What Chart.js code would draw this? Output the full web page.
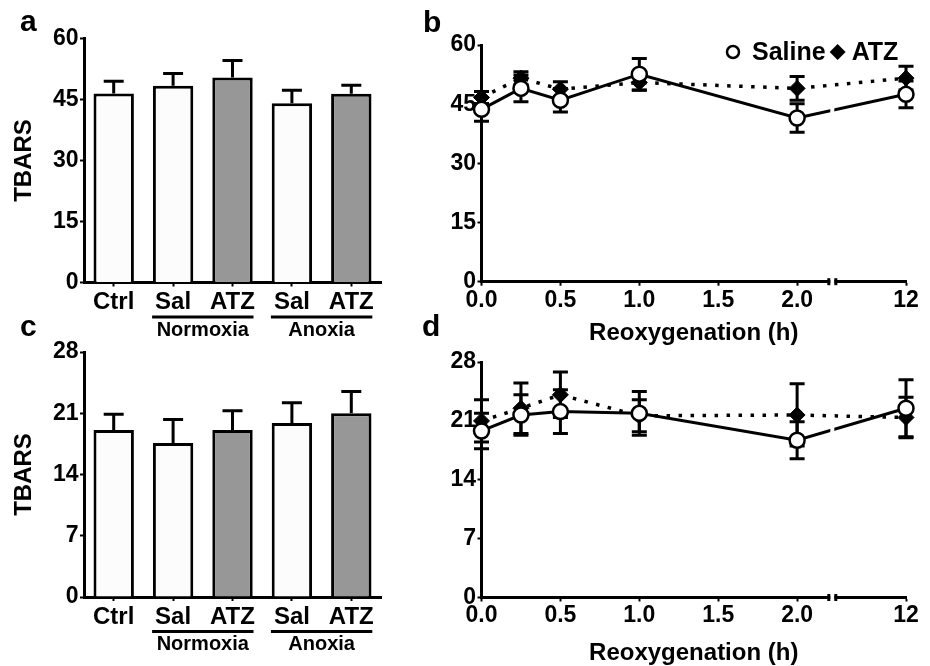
<!DOCTYPE html>
<html>
<head>
<meta charset="utf-8">
<title>TBARS after anoxia / reoxygenation</title>
<script src="https://cdn.jsdelivr.net/npm/chart.js@4.4.1/dist/chart.umd.min.js"></script>
<style>
    html, body { margin: 0; padding: 0; background: #fff; }
    #figure {
        position: relative; width: 930px; height: 666px; overflow: hidden;
        background: #fff; font-family: 'Liberation Sans', Arial, sans-serif;
    }
    .panel { position: absolute; }
    .panel canvas { display: block; }
    .letter {
        position: absolute; font-weight: bold; font-size: 30px;
        line-height: 30px; color: #000;
    }
</style>
</head>
<body>
<div id="figure">
    <div class="panel" style="left:0px;top:0px;"><canvas id="chartA" width="405" height="345"></canvas></div>
    <div class="panel" style="left:410px;top:0px;"><canvas id="chartB" width="520" height="350"></canvas></div>
    <div class="panel" style="left:0px;top:320px;"><canvas id="chartC" width="405" height="346"></canvas></div>
    <div class="panel" style="left:410px;top:320px;"><canvas id="chartD" width="520" height="346"></canvas></div>

    <div class="letter" style="left:20px;top:6px;">a</div>
    <div class="letter" style="left:423px;top:7px;">b</div>
    <div class="letter" style="left:20px;top:311px;">c</div>
    <div class="letter" style="left:422px;top:311px;">d</div>
</div>

<script>
// ---- Data ----

// Bar panels (a: top, c: bottom)
const barLabels = ['Ctrl', 'Sal', 'ATZ', 'Sal', 'ATZ'];
const barFills = ['#fcfcfc', '#fcfcfc', '#979797', '#fcfcfc', '#979797'];
const groupNames = ['Normoxia', 'Anoxia'];
const groupSpans = [[1, 2], [3, 4]];

const tbarsA = [46.5, 48.4, 50.4, 44.1, 46.4];
const tbarsAErr = [3.0, 3.0, 4.2, 3.2, 2.1];
const tbarsC = [19.1, 17.6, 19.1, 19.9, 21.0];
const tbarsCErr = [1.8, 2.7, 2.2, 2.3, 2.5];

// Reoxygenation panels (b: top, d: bottom)
const reoxTimes = [0, 0.25, 0.5, 1, 2, 12];
const salineB = [43.7, 49.0, 46.0, 52.6, 41.5, 47.5];
const salineBErr = [3.0, 3.4, 3.0, 4.0, 3.6, 3.4];
const atzB = [46.7, 51.6, 48.8, 50.5, 49.0, 51.6];
const atzBErr = [1.5, 1.6, 1.9, 2.0, 3.0, 3.0];
const salineD = [19.8, 21.7, 22.1, 21.9, 18.7, 22.5];
const salineDErr = [2.1, 2.4, 2.6, 2.6, 2.2, 3.4];
const atzD = [21.0, 22.5, 24.1, 21.6, 21.7, 21.4];
const atzDErr = [2.5, 3.0, 2.7, 1.9, 3.7, 2.4];

const timeTicks = [0, 0.5, 1, 1.5, 2, 12];
const timeTickLabels = ['0.0', '0.5', '1.0', '1.5', '2.0', '12'];

// y ticks
const yTicksTop = [0, 15, 30, 45, 60];
const yTicksBottom = [0, 7, 14, 21, 28];

// The time axis is broken after 2 h; the 12 h point sits just past the break
const AXIS_BREAK = 2.223;
const LATE_POS = 2.69;
const toAxis = (t) => (t > AXIS_BREAK ? LATE_POS : t);

const FONT = "'Liberation Sans', Arial, sans-serif";
Chart.defaults.font.family = FONT;
Chart.defaults.font.weight = 'bold';
Chart.defaults.color = '#000';

// Panel boxes (canvas position) and plot areas, in page pixels
function fitPanel(box, area) {
    return {
        padding: { top: area.top - box.y, right: box.x + box.w - area.right, bottom: 0, left: 0 },
        yWidth: area.left - box.x,
        xHeight: box.y + box.h - area.bottom
    };
}

// Error bars, from each dataset's "err" array
const errorBarPlugin = {
    id: 'errorBars',
    beforeDatasetsDraw(chart, args, opts) {
        const ctx = chart.ctx;
        const y = chart.scales.y;
        ctx.save();
        ctx.strokeStyle = '#000';
        ctx.lineWidth = 3;
        chart.data.datasets.forEach((ds, di) => {
            if (!ds.err) return;
            const meta = chart.getDatasetMeta(di);
            meta.data.forEach((el, i) => {
                const raw = ds.data[i];
                const v = typeof raw === 'object' ? raw.y : raw;
                const top = y.getPixelForValue(v + ds.err[i]);
                const bottom = opts.upOnly ? y.getPixelForValue(v) : y.getPixelForValue(v - ds.err[i]);
                const half = opts.capWidth / 2;
                ctx.beginPath();
                ctx.moveTo(el.x, top);
                ctx.lineTo(el.x, bottom);
                ctx.moveTo(el.x - half, top);
                ctx.lineTo(el.x + half, top);
                if (!opts.upOnly) {
                    ctx.moveTo(el.x - half, bottom);
                    ctx.lineTo(el.x + half, bottom);
                }
                ctx.stroke();
            });
        });
        ctx.restore();
    }
};

// Normoxia / Anoxia brackets under the bar labels
const groupLabelPlugin = {
    id: 'groupLabels',
    afterDraw(chart) {
        const x = chart.scales.x;
        const ctx = chart.ctx;
        const base = chart.chartArea.bottom;
        ctx.save();
        ctx.strokeStyle = '#000';
        ctx.fillStyle = '#000';
        ctx.lineWidth = 3;
        ctx.font = `bold 20px ${FONT}`;
        ctx.textAlign = 'center';
        ctx.textBaseline = 'middle';
        groupNames.forEach((name, i) => {
            const x0 = x.getPixelForValue(groupSpans[i][0]) - 21;
            const x1 = x.getPixelForValue(groupSpans[i][1]) + 21;
            ctx.beginPath();
            ctx.moveTo(x0, base + 34.5);
            ctx.lineTo(x1, base + 34.5);
            ctx.stroke();
            ctx.fillText(name, (x0 + x1) / 2, base + 47.5);
        });
        ctx.restore();
    }
};

// Gap in the time axis (and in the lines crossing it)
const axisBreakPlugin = {
    id: 'axisBreak',
    afterDatasetsDraw(chart) {
        const ctx = chart.ctx;
        const area = chart.chartArea;
        const bx = chart.scales.x.getPixelForValue(AXIS_BREAK);
        ctx.save();
        ctx.fillStyle = '#fff';
        ctx.fillRect(bx - 2, area.top, 4, area.bottom - area.top + 4);
        ctx.fillStyle = '#000';
        ctx.fillRect(bx - 5, area.bottom - 3.5, 3, 7);
        ctx.fillRect(bx + 2, area.bottom - 3.5, 3, 7);
        ctx.restore();
    }
};

// "o Saline  ◆ ATZ" in the top right corner of panel b
const cornerLegendPlugin = {
    id: 'cornerLegend',
    afterDraw(chart) {
        const ctx = chart.ctx;
        const area = chart.chartArea;
        const y = area.top + 7;
        let x = area.right - 173;
        ctx.save();
        ctx.font = `bold 25px ${FONT}`;
        ctx.textBaseline = 'middle';
        ctx.fillStyle = '#000';
        chart.data.datasets.forEach((ds) => {
            ctx.beginPath();
            if (ds.pointStyle === 'circle') {
                ctx.arc(x, y, 6, 0, Math.PI * 2);
                ctx.fillStyle = '#fff';
                ctx.fill();
                ctx.lineWidth = 2.5;
                ctx.strokeStyle = '#000';
                ctx.stroke();
            } else {
                ctx.moveTo(x, y - 8);
                ctx.lineTo(x + 8, y);
                ctx.lineTo(x, y + 8);
                ctx.lineTo(x - 8, y);
                ctx.closePath();
                ctx.fillStyle = '#000';
                ctx.fill();
            }
            ctx.fillStyle = '#000';
            const tx = x + (ds.pointStyle === 'circle' ? 19 : 14);
            ctx.fillText(ds.label, tx, y + 1);
            x = tx + ctx.measureText(ds.label).width + 12;
        });
        ctx.restore();
    }
};

function tickAxis(extra) {
    return Object.assign({
        grid: { drawOnChartArea: false, drawTicks: true, tickLength: 4, tickColor: '#000', tickWidth: 2 },
        border: { display: true, color: '#000', width: 3 }
    }, extra);
}

function barChart(id, box, area, values, errors, yTicks) {
    const fit = fitPanel(box, area);
    return new Chart(document.getElementById(id), {
        type: 'bar',
        data: {
            labels: barLabels,
            datasets: [{
                data: values,
                err: errors,
                backgroundColor: barFills,
                borderColor: '#000',
                borderWidth: 3,
                barPercentage: 0.68,
                categoryPercentage: 1
            }]
        },
        options: {
            responsive: false,
            animation: false,
            layout: { padding: fit.padding, autoPadding: false },
            plugins: {
                legend: { display: false },
                tooltip: { enabled: false },
                errorBars: { capWidth: 20, upOnly: true }
            },
            scales: {
                x: tickAxis({
                    grid: { offset: false, drawOnChartArea: false, drawTicks: true, tickLength: 4, tickColor: '#000', tickWidth: 2 },
                    ticks: { font: { size: 24, lineHeight: 1 }, padding: 4 },
                    afterFit: (s) => { s.height = fit.xHeight; }
                }),
                y: tickAxis({
                    min: yTicks[0],
                    max: yTicks[yTicks.length - 1],
                    afterBuildTicks: (s) => { s.ticks = yTicks.map(v => ({ value: v })); },
                    ticks: { font: { size: 23, lineHeight: 1 }, padding: 1.5 },
                    title: { display: true, text: 'TBARS', font: { size: 24, lineHeight: 1 }, padding: { top: 12, bottom: 0 } },
                    afterFit: (s) => { s.width = fit.yWidth; }
                })
            }
        },
        plugins: [errorBarPlugin, groupLabelPlugin]
    });
}

function lineChart(id, box, area, titleY, saline, salineErr, atz, atzErr, yTicks, withLegend) {
    const fit = fitPanel(box, area);
    const points = (vals) => reoxTimes.map((t, i) => ({ x: toAxis(t), y: vals[i] }));
    const plugins = [errorBarPlugin, axisBreakPlugin];
    if (withLegend) plugins.push(cornerLegendPlugin);

    return new Chart(document.getElementById(id), {
        type: 'line',
        data: {
            datasets: [
                {
                    label: 'Saline',
                    data: points(saline),
                    err: salineErr,
                    borderColor: '#000',
                    borderWidth: 3,
                    tension: 0,
                    clip: false,
                    pointStyle: 'circle',
                    pointRadius: 7.5,
                    pointBackgroundColor: '#fff',
                    pointBorderColor: '#000',
                    pointBorderWidth: 2.5
                },
                {
                    label: 'ATZ',
                    data: points(atz),
                    err: atzErr,
                    borderColor: '#000',
                    borderWidth: 3.5,
                    borderDash: [3.5, 8.5],
                    tension: 0,
                    clip: false,
                    pointStyle: 'rectRot',
                    pointRadius: 8,
                    pointBackgroundColor: '#000',
                    pointBorderColor: '#000',
                    pointBorderWidth: 1
                }
            ]
        },
        options: {
            responsive: false,
            animation: false,
            layout: { padding: fit.padding, autoPadding: false },
            plugins: {
                legend: { display: false },
                tooltip: { enabled: false },
                errorBars: { capWidth: 15, upOnly: false }
            },
            scales: {
                x: tickAxis({
                    type: 'linear',
                    min: 0,
                    max: LATE_POS,
                    afterBuildTicks: (s) => { s.ticks = timeTicks.map(t => ({ value: toAxis(t) })); },
                    ticks: {
                        font: { size: 23, lineHeight: 1 },
                        padding: 3,
                        callback: (v, i) => timeTickLabels[i]
                    },
                    title: {
                        display: true,
                        text: 'Reoxygenation (h)',
                        font: { size: 24, lineHeight: 1 },
                        padding: { top: 0, bottom: box.h - 12 - (titleY - box.y) }
                    },
                    afterFit: (s) => { s.height = fit.xHeight; }
                }),
                y: tickAxis({
                    min: yTicks[0],
                    max: yTicks[yTicks.length - 1],
                    afterBuildTicks: (s) => { s.ticks = yTicks.map(v => ({ value: v })); },
                    ticks: { font: { size: 23, lineHeight: 1 }, padding: 1.5 },
                    afterFit: (s) => { s.width = fit.yWidth; }
                })
            }
        },
        plugins: plugins
    });
}

barChart('chartA', { x: 0, y: 0, w: 405, h: 345 }, { left: 84, top: 38.5, right: 381, bottom: 282.5 },
    tbarsA, tbarsAErr, yTicksTop);
lineChart('chartB', { x: 410, y: 0, w: 520, h: 350 }, { left: 481.5, top: 45, right: 906, bottom: 281.7 }, 333,
    salineB, salineBErr, atzB, atzBErr, yTicksTop, true);
barChart('chartC', { x: 0, y: 320, w: 405, h: 346 }, { left: 84, top: 352, right: 381, bottom: 597 },
    tbarsC, tbarsCErr, yTicksBottom);
lineChart('chartD', { x: 410, y: 320, w: 520, h: 346 }, { left: 481.5, top: 362, right: 906, bottom: 597.5 }, 653,
    salineD, salineDErr, atzD, atzDErr, yTicksBottom, false);
</script>
</body>
</html>
